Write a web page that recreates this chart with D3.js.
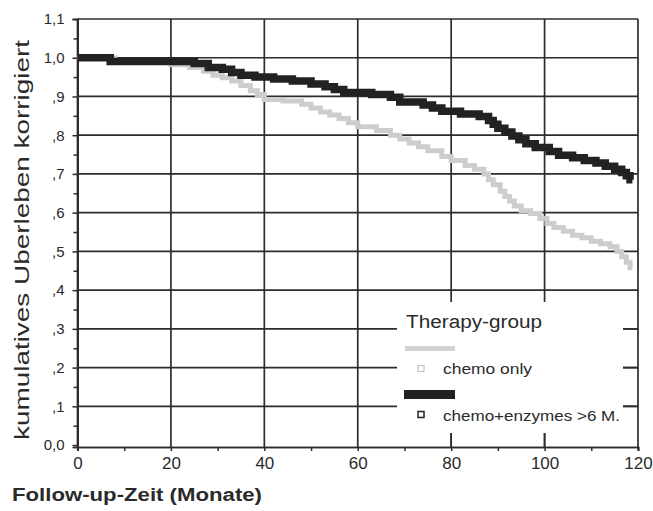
<!DOCTYPE html>
<html>
<head>
<meta charset="utf-8">
<script src="https://cdn.jsdelivr.net/npm/d3@7"></script>
<style>
  body { margin: 0; background: #fff; }
  text { font-family: "Liberation Sans", Arial, sans-serif; fill: #2a2a2a; }
</style>
</head>
<body>
<svg width="653" height="511"></svg>
<script>
// **** data ****

// chemo only (light) - [month, survival]
var chemoOnly = [
  [0,1.0],[8,0.99],[20,0.982],[24,0.975],[27,0.965],[29,0.955],[31,0.948],[33,0.94],
  [35,0.928],[37,0.915],[38.5,0.905],[40,0.892],[44,0.888],[48,0.88],[50,0.87],[52,0.86],
  [54,0.852],[56,0.843],[58,0.832],[60,0.822],[64,0.812],[67,0.8],[69,0.79],[71,0.78],
  [73,0.77],[75,0.76],[78,0.745],[80,0.735],[83,0.722],[85,0.712],[87,0.7],[88,0.685],
  [89,0.672],[90.5,0.655],[91.5,0.642],[92.5,0.63],[93.5,0.617],[95,0.605],[97,0.598],
  [99,0.585],[100.5,0.572],[102,0.562],[104,0.552],[106,0.542],[108,0.535],[110,0.526],
  [112,0.52],[114,0.512],[115.5,0.5],[116.5,0.486],[117.5,0.472],[118.3,0.458],[118.8,0.458]
];

// chemo + enzymes > 6 M. (dark)
var chemoEnzymes = [
  [0,1.0],[7,0.99],[25,0.985],[28,0.975],[31,0.97],[33,0.962],[35,0.955],[38,0.95],
  [42,0.945],[46,0.94],[50,0.932],[53,0.925],[55,0.918],[57,0.91],[63,0.905],[67,0.898],
  [69,0.886],[74,0.878],[76,0.87],[78,0.862],[82,0.855],[86,0.848],[88,0.838],[89,0.828],
  [90,0.818],[91.5,0.808],[93,0.798],[94.5,0.788],[96,0.778],[98,0.768],[101,0.758],
  [103,0.748],[106,0.742],[108.5,0.735],[111,0.728],[113,0.72],[115,0.712],[116.5,0.704],
  [117.5,0.695],[118.3,0.685],[118.8,0.685]
];

var xTicks = [0, 20, 40, 60, 80, 100, 120];
var yTicks = [0, 0.1, 0.2, 0.3, 0.4, 0.5, 0.6, 0.7, 0.8, 0.9, 1.0, 1.1];
var yTickLabels = ["0,0", ",1", ",2", ",3", ",4", ",5", ",6", ",7", ",8", ",9", "1,0", "1,1"];
var legendTitle = "Therapy-group";
var seriesNames = ["chemo only", "chemo+enzymes >6 M."];

// **** scales ****

var svg = d3.select('svg');

var xScale = d3.scaleLinear().domain([0, 120]).range([77.5, 638]);
var yScale = d3.scaleLinear().domain([-0.005, 1.1]).range([447, 19]);

var gridColor = "#2c2c2c";

// grid lines
var grid = svg.append('g').attr('class', 'grid');

grid.selectAll('line.h')
    .data(yTicks.filter(function(d) { return d > 0; }))
    .enter().append('line')
    .attr('x1', xScale(0)).attr('x2', xScale(120))
    .attr('y1', function(d) { return yScale(d); })
    .attr('y2', function(d) { return yScale(d); })
    .attr('stroke', gridColor).attr('stroke-width', 1.7);

grid.selectAll('line.v')
    .data(xTicks)
    .enter().append('line')
    .attr('x1', function(d) { return xScale(d); })
    .attr('x2', function(d) { return xScale(d); })
    .attr('y1', yScale(1.1)).attr('y2', yScale(-0.005))
    .attr('stroke', gridColor).attr('stroke-width', 1.7);

// legend box hides the grid behind it
svg.append('rect')
    .attr('x', 397).attr('y', 302)
    .attr('width', 226).attr('height', 131)
    .attr('fill', '#fff');

// **** axes ****

var yAxis = svg.append('g')
    .attr('transform', 'translate(' + xScale(0) + ',0)')
    .call(d3.axisLeft(yScale)
        .tickValues(yTicks)
        .tickSize(5)
        .tickFormat(function(d, i) { return yTickLabels[i]; }));

svg.append('g')
    .attr('transform', 'translate(' + xScale(0) + ',0)')
    .call(d3.axisLeft(yScale)
        .tickValues(d3.range(0.05, 1.1, 0.1))
        .tickSize(4)
        .tickFormat(''));

var xAxis = svg.append('g')
    .attr('transform', 'translate(0,' + yScale(-0.005) + ')')
    .call(d3.axisBottom(xScale)
        .tickValues(xTicks)
        .tickSize(4)
        .tickPadding(6));

svg.append('g')
    .attr('transform', 'translate(0,' + yScale(-0.005) + ')')
    .call(d3.axisBottom(xScale)
        .tickValues([10, 30, 50, 70, 90, 110])
        .tickSize(4)
        .tickFormat(''));

// inner tick stubs along legend edges (right axis and bottom axis)
svg.selectAll('line.rstub')
    .data([0.1, 0.2, 0.3])
    .enter().append('line')
    .attr('x1', xScale(120) - 15).attr('x2', xScale(120))
    .attr('y1', function(d) { return yScale(d); })
    .attr('y2', function(d) { return yScale(d); })
    .attr('stroke', gridColor).attr('stroke-width', 1.7);

svg.selectAll('line.bstub')
    .data([80, 100])
    .enter().append('line')
    .attr('x1', function(d) { return xScale(d); })
    .attr('x2', function(d) { return xScale(d); })
    .attr('y1', yScale(-0.005) - 14).attr('y2', yScale(-0.005))
    .attr('stroke', gridColor).attr('stroke-width', 1.7);

svg.selectAll('.domain').attr('stroke', gridColor).attr('stroke-width', 1.7);
svg.selectAll('.tick line').attr('stroke', gridColor).attr('stroke-width', 1.5);
svg.selectAll('.tick text')
    .style('font-family', '"Liberation Sans", Arial, sans-serif')
    .attr('fill', '#2a2a2a');
yAxis.selectAll('.tick text').style('font-size', '15px').attr('x', -13);
xAxis.selectAll('.tick text').style('font-size', '17px');

// **** survival curves ****

var line = d3.line()
    .x(function(d) { return xScale(d[0]); })
    .y(function(d) { return yScale(d[1]); })
    .curve(d3.curveStepAfter);

svg.append('path')
    .datum(chemoOnly)
    .attr('d', line)
    .attr('fill', 'none')
    .attr('stroke', '#cdcdcd')
    .attr('stroke-width', 5);

svg.append('path')
    .datum(chemoEnzymes)
    .attr('d', line)
    .attr('fill', 'none')
    .attr('stroke', '#222')
    .attr('stroke-width', 7.5);

// **** legend ****

svg.append('text')
    .attr('x', 406).attr('y', 328)
    .attr('textLength', 136).attr('lengthAdjust', 'spacingAndGlyphs')
    .style('font-size', '18px')
    .text(legendTitle);

svg.append('rect')
    .attr('x', 405).attr('y', 346).attr('width', 50).attr('height', 5)
    .attr('fill', '#d2d2d2');
svg.append('rect')
    .attr('x', 418).attr('y', 365.5).attr('width', 6).attr('height', 6)
    .attr('fill', '#fff').attr('stroke', '#c4c4c4').attr('stroke-width', 1.2);
svg.append('text')
    .attr('x', 443).attr('y', 374)
    .attr('textLength', 89).attr('lengthAdjust', 'spacingAndGlyphs')
    .style('font-size', '15px')
    .text(seriesNames[0]);

svg.append('rect')
    .attr('x', 404).attr('y', 390).attr('width', 51).attr('height', 9)
    .attr('fill', '#222');
svg.append('rect')
    .attr('x', 418).attr('y', 411.5).attr('width', 6).attr('height', 6)
    .attr('fill', '#fff').attr('stroke', '#222').attr('stroke-width', 1.5);
svg.append('text')
    .attr('x', 443).attr('y', 421)
    .attr('textLength', 177).attr('lengthAdjust', 'spacingAndGlyphs')
    .style('font-size', '15px')
    .text(seriesNames[1]);

// **** axis labels ****

svg.append('text')
    .attr('transform', 'translate(29,240) rotate(-90)')
    .attr('text-anchor', 'middle')
    .attr('textLength', 400).attr('lengthAdjust', 'spacingAndGlyphs')
    .style('font-size', '21px')
    .text('kumulatives Uberleben korrigiert');

svg.append('text')
    .attr('x', 12).attr('y', 501)
    .attr('textLength', 250).attr('lengthAdjust', 'spacingAndGlyphs')
    .style('font-size', '18px')
    .style('font-weight', 'bold')
    .text('Follow-up-Zeit (Monate)');
</script>
</body>
</html>
